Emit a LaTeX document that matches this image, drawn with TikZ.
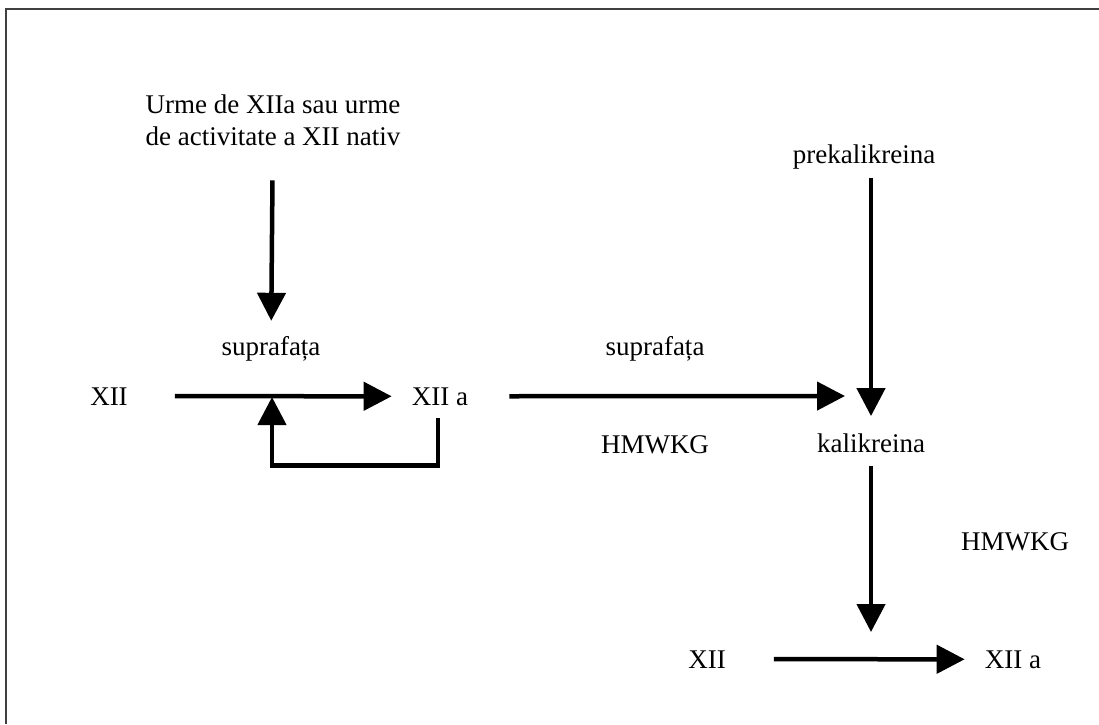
\documentclass[tikz,border=0pt]{standalone}
\usepackage{fontspec}
\setmainfont{Liberation Serif}
\usetikzlibrary{arrows.meta}
\pgfdeclarelayer{bg}
\pgfsetlayers{bg,main}

\tikzset{
        txt/.style={inner sep=0pt, anchor=base, font=\fontsize{27}{32}\selectfont},
        arr/.style={line width=4.5pt, -{Triangle[length=28pt,width=28pt]}},
        frameline/.style={line width=2pt, draw=black!75}
}

\begin{document}
\begin{tikzpicture}[x=1pt, y=-1pt]
        \useasboundingbox (0,0) rectangle (1099,724);
        \draw[frameline] (6,724) -- (6,9) -- (1099,9);
        \node (urme) [txt, align=center] at (273, 145) {Urme de XIIa sau urme\\de activitate a XII nativ};
        \node (supL) [txt] at (271, 355) {suprafața};
        \node (xiiL) [txt] at (109, 405) {XII};
        \node (xiiaL) [txt] at (440, 405) {XII a};
        \node (supM) [txt] at (655, 355) {suprafața};
        \node (hmM) [txt] at (655, 453) {HMWKG};
        \node (prek) [txt] at (864, 163) {prekalikreina};
        \node (kalik) [txt] at (871, 452) {kalikreina};
        \node (hmR) [txt] at (1015, 550) {HMWKG};
        \node (xiiB) [txt] at (707, 668) {XII};
        \node (xiiaB) [txt] at (1013, 668) {XII a};
        \coordinate (kin) at (871, 396);
        \coordinate (kout) at (871, 659);
        \coordinate (fb) at (272, 397);
        \begin{pgfonlayer}{bg}
                \draw (urme) edge [arr, shorten <=35pt, shorten >=15pt] (supL);
                \draw (xiiL) edge [arr, shorten <=47pt, shorten >=20pt] (xiiaL);
                \draw (xiiaL) edge [arr, shorten <=41pt, shorten >=26pt] (kin);
                \draw (prek.south -| kalik) edge [arr, shorten <=9pt, shorten >=17pt] (kalik);
                \draw (kalik) edge [arr, shorten <=14pt, shorten >=27pt] (kout);
                \draw (xiiB) edge [arr, shorten <=48pt, shorten >=20pt] (xiiaB);
                \draw [arr] ([yshift=-13pt]xiiaL.south -| 438,0) -- ++(0,47) -| (fb);
        \end{pgfonlayer}
\end{tikzpicture}
\end{document}
